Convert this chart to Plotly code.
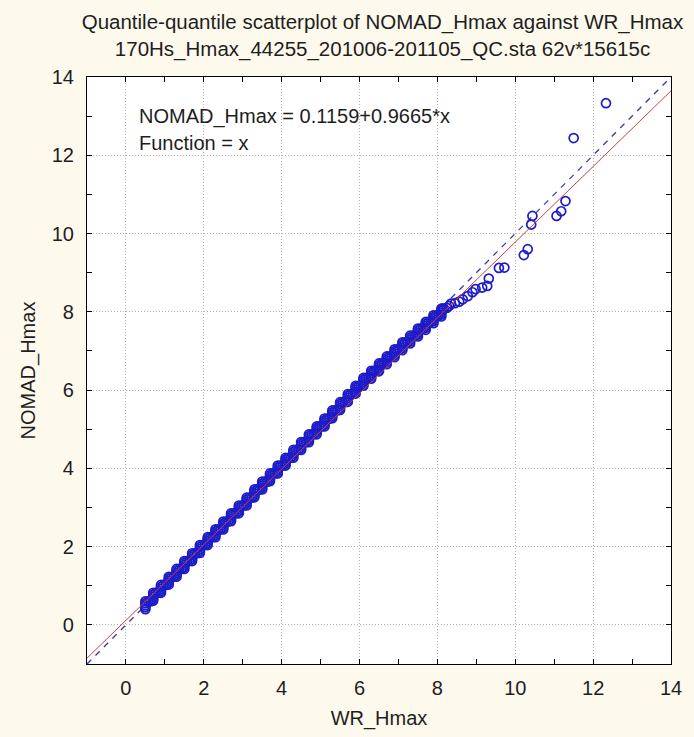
import plotly.graph_objects as go

# WR_Hmax quantile levels and the NOMAD_Hmax quantiles stacked on each level
wr_levels = [0.5, 0.7, 0.9, 1.1, 1.3, 1.5, 1.7, 1.9, 2.1, 2.3, 2.5, 2.7, 2.9, 3.1,
             3.3, 3.5, 3.7, 3.9, 4.1, 4.3, 4.5, 4.7, 4.9, 5.1, 5.3, 5.5, 5.7, 5.9,
             6.1, 6.3, 6.5, 6.7, 6.9, 7.1, 7.3, 7.5, 7.7, 7.9, 8.1]
nomad_cols = [
    [0.40, 0.45, 0.50, 0.55, 0.60], [0.62, 0.67, 0.72, 0.77, 0.82],
    [0.82, 0.87, 0.92, 0.97, 1.02], [1.03, 1.08, 1.13, 1.18, 1.23],
    [1.23, 1.28, 1.33, 1.38, 1.43], [1.43, 1.48, 1.53, 1.58, 1.63],
    [1.63, 1.68, 1.73, 1.78, 1.83], [1.84, 1.89, 1.94, 1.99, 2.04],
    [2.04, 2.09, 2.14, 2.19, 2.24], [2.24, 2.29, 2.34, 2.39, 2.44],
    [2.44, 2.49, 2.54, 2.59, 2.64], [2.65, 2.70, 2.75, 2.80, 2.85],
    [2.85, 2.90, 2.95, 3.00, 3.05], [3.05, 3.10, 3.15, 3.20, 3.25],
    [3.26, 3.31, 3.36, 3.41, 3.46], [3.46, 3.51, 3.56, 3.61, 3.66],
    [3.67, 3.72, 3.77, 3.82, 3.87], [3.87, 3.92, 3.97, 4.02, 4.07],
    [4.07, 4.12, 4.17, 4.22, 4.27], [4.27, 4.32, 4.37, 4.42, 4.47],
    [4.47, 4.52, 4.57, 4.62, 4.67], [4.67, 4.72, 4.77, 4.82, 4.87],
    [4.87, 4.92, 4.97, 5.02, 5.07], [5.07, 5.12, 5.17, 5.22, 5.27],
    [5.28, 5.33, 5.38, 5.43, 5.48], [5.49, 5.54, 5.59, 5.64, 5.69],
    [5.70, 5.75, 5.80, 5.85, 5.90], [5.91, 5.96, 6.01, 6.06, 6.11],
    [6.11, 6.16, 6.21, 6.26, 6.31], [6.29, 6.34, 6.39, 6.44, 6.49],
    [6.48, 6.53, 6.58, 6.63, 6.68], [6.66, 6.71, 6.76, 6.81, 6.86],
    [6.84, 6.89, 6.94, 6.99, 7.04], [7.02, 7.07, 7.12, 7.17, 7.22],
    [7.19, 7.24, 7.29, 7.34, 7.39], [7.37, 7.42, 7.47, 7.52, 7.57],
    [7.54, 7.59, 7.64, 7.69, 7.74], [7.71, 7.76, 7.81, 7.86, 7.91],
    [7.88, 7.93, 7.98, 8.03, 8.08],
]

# NOMAD_Hmax levels whose quantiles run across several WR_Hmax values
nomad_runs = [0.60, 0.82, 1.02, 1.23, 1.43, 1.63, 1.83, 2.04, 2.24, 2.44, 2.64, 2.85,
              3.05, 3.25, 3.46, 3.66, 3.87, 4.07, 4.27, 4.47, 4.67, 4.87, 5.07, 5.27,
              5.48, 5.69, 5.90, 6.11, 6.31, 6.49, 6.68, 6.86, 7.04, 7.22, 7.39, 7.57,
              7.74, 7.91, 8.08]
wr_runs = [
    [0.57, 0.63], [0.77, 0.83], [0.97, 1.03], [1.17, 1.23], [1.37, 1.43], [1.57, 1.63],
    [1.77, 1.83], [1.97, 2.03], [2.17, 2.23], [2.37, 2.43], [2.57, 2.63], [2.77, 2.83],
    [2.97, 3.03], [3.17, 3.23], [3.37, 3.43], [3.57, 3.63], [3.77, 3.83], [3.97, 4.03],
    [4.17, 4.23], [4.37, 4.43], [4.57, 4.63], [4.77, 4.83], [4.97, 5.03], [5.17, 5.23],
    [5.37, 5.43], [5.57, 5.63], [5.77, 5.83], [5.97, 6.03], [6.17, 6.23], [6.37, 6.43],
    [6.57, 6.63], [6.77, 6.83], [6.97, 7.03], [7.17, 7.23], [7.37, 7.43], [7.57, 7.63],
    [7.77, 7.83], [7.97, 8.03], [8.13, 8.17],
]

# Upper tail quantiles
wr_tail = [8.24, 8.30, 8.35, 8.45, 8.56, 8.65, 8.78, 8.90, 8.98, 9.15, 9.28, 9.32,
           9.58, 9.72, 10.22, 10.32, 10.41, 10.44, 11.06, 11.18, 11.29, 11.50, 12.33]
nomad_tail = [8.10, 8.15, 8.21, 8.22, 8.26, 8.32, 8.40, 8.50, 8.58, 8.62, 8.66, 8.85,
              9.12, 9.13, 9.45, 9.60, 10.23, 10.45, 10.45, 10.57, 10.83, 12.44, 13.33]

# Fitted line and reference function y = x
intercept = 0.1159
slope = 0.9665
x_range = [-1, 14]
y_range = [-1, 14]

wr_q, nomad_q = [], []
for lv, col, run_y, run_x in zip(wr_levels, nomad_cols, nomad_runs, wr_runs):
    wr_q += [lv] * len(col)
    nomad_q += col
    wr_q += run_x
    nomad_q += [run_y] * len(run_x)
wr_q += wr_tail
nomad_q += nomad_tail

font_family = "Liberation Sans, Arial, sans-serif"
text_color = "#1e1e1e"

fig = go.Figure()

fig.add_trace(go.Scatter(
    x=x_range, y=x_range, mode="lines",
    line=dict(color="#3a3aa6", width=1.3, dash="6px,6px"),
    hoverinfo="skip", showlegend=False,
))
fig.add_trace(go.Scatter(
    x=wr_q, y=nomad_q, mode="markers",
    marker=dict(symbol="circle-open", size=9, color="#1c1cc8", line=dict(width=1.7)),
    showlegend=False,
))
fig.add_trace(go.Scatter(
    x=x_range, y=[intercept + slope * v for v in x_range], mode="lines",
    line=dict(color="#d23c3c", width=1),
    hoverinfo="skip", showlegend=False,
))

axis_common = dict(
    showline=True, linecolor="#000000", linewidth=1.2, mirror="allticks",
    ticks="inside", ticklen=5, tickcolor="#000000", tickwidth=1,
    dtick=2, tick0=0,
    showgrid=True, gridcolor="#b4b4b4", griddash="1px,2px", gridwidth=1,
    zeroline=False,
    minor=dict(ticks="inside", ticklen=5, dtick=1, tick0=0, tickcolor="#000000", showgrid=False),
    tickfont=dict(family=font_family, size=20, color=text_color),
    title_font=dict(family=font_family, size=20, color=text_color),
)

fig.update_xaxes(range=x_range, title_text="WR_Hmax", title_standoff=12,
                 ticklabelstandoff=6, **axis_common)
fig.update_yaxes(range=y_range, title_text="NOMAD_Hmax", title_standoff=10,
                 ticklabelstandoff=8, **axis_common)

fig.add_annotation(
    x=0.28, y=13.0, xref="x", yref="y", xanchor="left", yanchor="middle",
    text="NOMAD_Hmax = 0.1159+0.9665*x", showarrow=False,
    font=dict(family=font_family, size=20, color=text_color),
)
fig.add_annotation(
    x=0.28, y=12.32, xref="x", yref="y", xanchor="left", yanchor="middle",
    text="Function = x", showarrow=False,
    font=dict(family=font_family, size=20, color=text_color),
)

fig.update_layout(
    width=694, height=737,
    margin=dict(l=87, r=16, t=77, b=71),
    paper_bgcolor="#fdf9ec",
    plot_bgcolor="#ffffff",
    title=dict(
        text="Quantile-quantile scatterplot of NOMAD_Hmax against WR_Hmax<br>"
             "170Hs_Hmax_44255_201006-201105_QC.sta 62v*15615c",
        x=(87 + 678) / 2 / 694, xanchor="center",
        y=1 - 29 / 737, yanchor="middle",
        font=dict(family=font_family, size=20.5, color=text_color),
    ),
)

fig.write_html("out.html")
